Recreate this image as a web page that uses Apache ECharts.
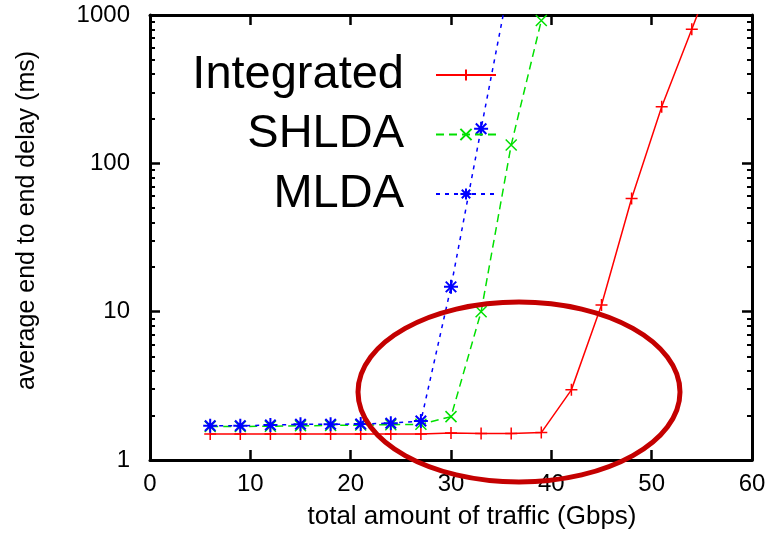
<!DOCTYPE html>
<html>
<head>
<meta charset="utf-8">
<script src="https://cdn.jsdelivr.net/npm/echarts@6/dist/echarts.min.js"></script>
<style>
  html, body { margin: 0; padding: 0; background: #fff; }
  #main { width: 783px; height: 538px; }
</style>
</head>
<body>
<div id="main"></div>
<script>
// traffic values (Gbps) and delays (ms)
const integratedX = [6, 9, 12, 15, 18, 21, 24, 27, 30, 33, 36, 39, 42, 45, 48, 51, 54, 57];
const integratedY = [1.5, 1.5, 1.5, 1.5, 1.5, 1.5, 1.5, 1.5, 1.52, 1.51, 1.51, 1.53, 2.97, 11.1, 58, 241, 802, 2700];

const shldaX = [6, 9, 12, 15, 18, 21, 24, 27, 30, 33, 36, 39];
const shldaY = [1.68, 1.68, 1.69, 1.7, 1.71, 1.72, 1.73, 1.74, 1.96, 10.0, 133, 917];

const mldaX = [6, 9, 12, 15, 18, 21, 24, 27, 30, 33, 36];
const mldaY = [1.7, 1.7, 1.72, 1.74, 1.74, 1.75, 1.77, 1.83, 14.7, 171, 1900];

const seriesNames = ['Integrated', 'SHLDA', 'MLDA'];
const xTicks = [0, 10, 20, 30, 40, 50, 60];
const yMinorTicks = [2, 3, 4, 5, 6, 7, 8, 9, 20, 30, 40, 50, 60, 70, 80, 90, 200, 300, 400, 500, 600, 700, 800, 900];

const zip = (xs, ys) => xs.map((x, i) => [x, ys[i]]);

const FONT = '"Liberation Sans", Arial, sans-serif';
const PLUS = 'path://M0,-1L0,1M-1,0L1,0';
const CROSS = 'path://M-1,-1L1,1M-1,1L1,-1';
const STAR = 'path://M0,-1L0,1M-1,0L1,0M-0.75,-0.75L0.75,0.75M-0.75,0.75L0.75,-0.75';

const chart = echarts.init(document.getElementById('main'));

const baseY = {
    type: 'log', logBase: 10, min: 1, max: 1000, interval: 1,
    splitLine: { show: false }
};
// the log axis will not take custom minor ticks, so a plain 0..3 axis
// (decades) carries them at log10 of each value
const minorY = {
    type: 'value', min: 0, max: 3,
    splitLine: { show: false },
    axisLine: { show: false, onZero: false },
    axisLabel: { show: false },
    axisTick: {
        show: true, inside: true, length: 5,
        customValues: yMinorTicks.map(v => Math.log10(v)),
        lineStyle: { color: '#000', width: 2 }
    }
};
const baseX = {
    type: 'value', min: xTicks[0], max: xTicks[xTicks.length - 1], interval: 10,
    splitLine: { show: false }
};
const axisLine = { show: true, onZero: false, lineStyle: { color: '#000', width: 3 } };
const majorTick = { show: true, inside: true, length: 10, lineStyle: { color: '#000', width: 2.5 } };

function lineSeries(name, data, color, dash, symbol, size, bw) {
    return {
        name: name,
        type: 'line',
        data: data,
        clip: true,
        symbol: symbol,
        symbolSize: size,
        showAllSymbol: true,
        lineStyle: { color: color, width: 1.5, type: dash },
        itemStyle: { color: 'rgba(0,0,0,0)', borderColor: color, borderWidth: bw },
        emphasis: { disabled: true },
        animation: false
    };
}

chart.setOption({
    animation: false,
    grid: { left: 150, right: 31, top: 15, bottom: 78, containLabel: false },
    legend: {
        data: seriesNames,
        orient: 'vertical',
        align: 'right',
        right: 286,
        top: 50,
        padding: 0,
        itemWidth: 60,
        itemHeight: 14,
        itemGap: 9.5,
        selectedMode: false,
        textStyle: {
            fontFamily: FONT, fontSize: 47, color: '#000',
            lineHeight: 50, padding: [0, 27, 0, 0]
        }
    },
    xAxis: [
        Object.assign({}, baseX, {
            position: 'bottom',
            name: 'total amount of traffic (Gbps)',
            nameLocation: 'middle',
            nameGap: 44,
            nameTextStyle: { fontFamily: FONT, fontSize: 26, color: '#000', padding: [0, 0, 0, 42] },
            axisLine: axisLine,
            axisTick: majorTick,
            axisLabel: { fontFamily: FONT, fontSize: 24, color: '#000', margin: 12 }
        }),
        Object.assign({}, baseX, {
            position: 'top',
            axisLine: axisLine,
            axisTick: majorTick,
            axisLabel: { show: false }
        })
    ],
    yAxis: [
        Object.assign({}, baseY, {
            position: 'left',
            name: 'average end to end delay (ms)',
            nameLocation: 'middle',
            nameGap: 110,
            nameRotate: 90,
            nameTextStyle: { fontFamily: FONT, fontSize: 25, color: '#000', padding: [0, 0, 0, 34] },
            axisLine: axisLine,
            axisTick: majorTick,
            axisLabel: { fontFamily: FONT, fontSize: 24, color: '#000', margin: 20, formatter: v => String(v) }
        }),
        Object.assign({}, minorY, { position: 'left' }),
        Object.assign({}, baseY, {
            position: 'right',
            axisLine: axisLine,
            axisTick: majorTick,
            axisLabel: { show: false }
        }),
        Object.assign({}, minorY, { position: 'right' })
    ],
    series: [
        lineSeries('Integrated', zip(integratedX, integratedY), '#ff0000', 'solid', PLUS, 12, 1.5),
        lineSeries('SHLDA', zip(shldaX, shldaY), '#00e000', [8, 5], CROSS, 11, 1.5),
        lineSeries('MLDA', zip(mldaX, mldaY), '#0000ff', [4, 5], STAR, 14, 2)
    ],
    graphic: [{
        type: 'ellipse',
        z: 100,
        shape: { cx: 519, cy: 392, rx: 161, ry: 90 },
        style: { fill: 'none', stroke: '#c40000', lineWidth: 5 }
    }]
});
</script>
</body>
</html>
